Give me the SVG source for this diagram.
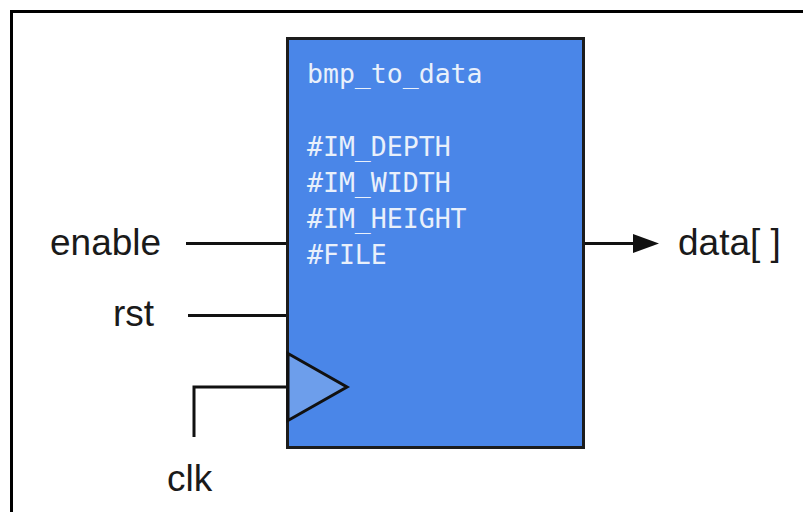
<svg xmlns="http://www.w3.org/2000/svg" width="803" height="512" viewBox="0 0 803 512">
  <style>
    .label { font-family: "Liberation Sans", Arial, sans-serif; font-size: 37px; fill: #1a1a1a; }
    .mono { font-family: "DejaVu Sans Mono", "Liberation Mono", monospace; font-size: 26.5px; fill: #e9f0fb; }
    .wire { fill: none; stroke: #111; stroke-width: 3; }
  </style>

  <rect width="803" height="512" fill="#ffffff"/>
  <!-- outer frame -->
  <rect x="11.5" y="11.5" width="820" height="540" fill="none" stroke="#000" stroke-width="3"/>

  <!-- connectors -->
  <g id="connectors">
    <line class="wire" x1="186" y1="243.5" x2="288" y2="243.5"/>
    <line class="wire" x1="188" y1="315.5" x2="288" y2="315.5"/>
    <polyline class="wire" points="287,387 194,387 194,437"/>
    <path d="M584,243.5 H636" class="wire"/>
    <path d="M633,234 L659,243.5 L633,253 Z" fill="#111"/>
  </g>

  <!-- module block -->
  <g id="bmp_to_data">
    <rect x="287.5" y="38.5" width="296" height="409" fill="#4a86e8" stroke="#1c1c1c" stroke-width="3"/>
    <text class="mono" x="307" y="83">bmp_to_data</text>
    <text class="mono" x="307" y="156">#IM_DEPTH</text>
    <text class="mono" x="307" y="192">#IM_WIDTH</text>
    <text class="mono" x="307" y="228">#IM_HEIGHT</text>
    <text class="mono" x="307" y="264">#FILE</text>
  </g>

  <!-- clock input triangle -->
  <g id="clk_port">
    <path d="M288,353.5 L347,387 L288,420.5 Z" fill="#6d9eeb" stroke="#111" stroke-width="3" stroke-linejoin="miter"/>
  </g>

  <g id="enable"><text class="label" x="50" y="255">enable</text></g>
  <g id="rst"><text class="label" x="113" y="326">rst</text></g>
  <g id="clk"><text class="label" x="167" y="491">clk</text></g>
  <g id="data"><text class="label" x="678" y="255">data[ ]</text></g>
</svg>
